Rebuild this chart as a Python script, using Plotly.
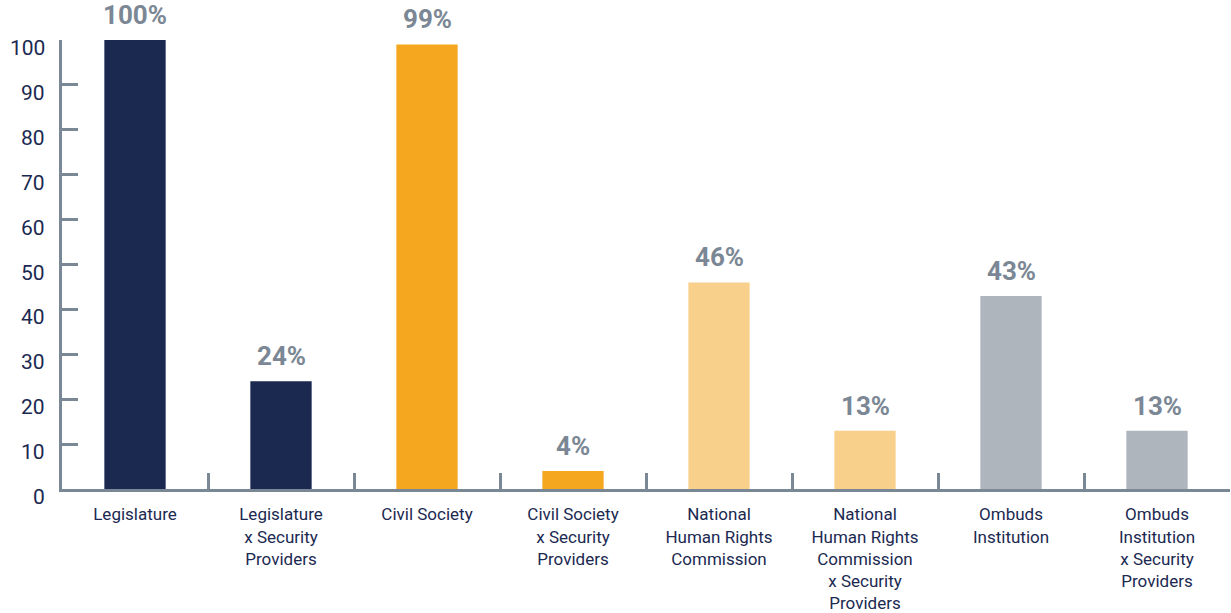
import plotly.graph_objects as go

categories = [
    "Legislature",
    "Legislature<br>x Security<br>Providers",
    "Civil Society",
    "Civil Society<br>x Security<br>Providers",
    "National<br>Human Rights<br>Commission",
    "National<br>Human Rights<br>Commission<br>x Security<br>Providers",
    "Ombuds<br>Institution",
    "Ombuds<br>Institution<br>x Security<br>Providers",
]
values = [100, 24, 99, 4, 46, 13, 43, 13]
colors = ["#1b2951", "#1b2951", "#f5a81f", "#f5a81f",
          "#f8d08c", "#f8d08c", "#aeb5bd", "#aeb5bd"]
y_ticks = [0, 10, 20, 30, 40, 50, 60, 70, 80, 90, 100]

axis_col = "#7a8794"
text_col = "#1b2951"
font_fam = "Roboto, Lato, sans-serif"

fig = go.Figure()
fig.add_trace(go.Bar(x=categories, y=values, marker=dict(color=colors, line=dict(width=0)),
                     hoverinfo="skip"))

for c, v in zip(categories, values):
    fig.add_annotation(x=c, y=v, text=f"<b>{v}%</b>", showarrow=False,
                       yanchor="bottom", yshift=8,
                       font=dict(family=font_fam, size=26, color="#7b8794"))

# y tick labels (slightly below tick marks, as in the reference)
for t in y_ticks:
    fig.add_annotation(x=0, xref="paper", y=t, yref="y", text=str(t), showarrow=False,
                       xanchor="right", yanchor="middle", xshift=-15, yshift=-8,
                       font=dict(family=font_fam, size=21, color=text_col))

fig.update_layout(
    width=1231, height=613,
    margin=dict(l=62, r=1, t=40, b=124),
    plot_bgcolor="white", paper_bgcolor="white",
    bargap=0.58, showlegend=False,
    font=dict(family=font_fam, color=text_col),
)
fig.update_xaxes(
    showline=True, linecolor=axis_col, linewidth=3,
    ticks="inside", tickson="boundaries", ticklen=16, tickwidth=3, tickcolor=axis_col,
    tickfont=dict(size=17, color=text_col), ticklabelstandoff=8,
    showgrid=False, zeroline=False,
)
fig.update_yaxes(
    range=[0, 100], tickvals=y_ticks, showticklabels=False,
    showline=True, linecolor=axis_col, linewidth=3,
    ticks="inside", ticklen=16, tickwidth=3, tickcolor=axis_col,
    showgrid=False, zeroline=False,
)

fig.write_html("out.html")
